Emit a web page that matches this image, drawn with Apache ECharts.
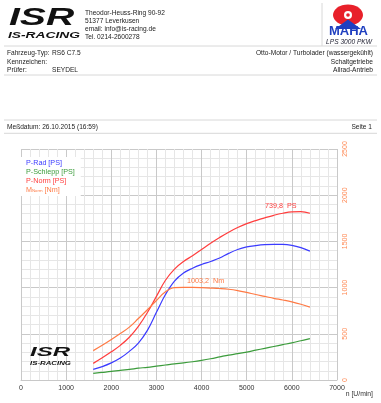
<!DOCTYPE html>
<html>
<head>
<meta charset="utf-8">
<script src="https://cdn.jsdelivr.net/npm/echarts@6/dist/echarts.min.js"></script>
<style>
html,body{margin:0;padding:0;background:#fff;}
#chart{width:381px;height:403px;}
</style>
</head>
<body>
<div id="chart"></div>
<script>
// ---- data ----
const rpm = [1600,1800,2000,2200,2400,2600,2800,3000,3200,3400,3600,3800,4000,4200,4400,4600,4800,5000,5200,5400,5600,5800,6000,6200,6400];
const pRad = [46,58,74,95,124,160,215,293,370,428,463,484,500,513,528,548,565,576,582,586,587,587,583,573,558];
const pSchlepp = [29,33,37,42,46,51,55,60,65,70,74,79,85,92,100,108,114,121,129,137,145,153,161,170,179];
const pNorm = [72,96,122,150,185,232,292,362,432,480,513,538,565,592,617,640,660,677,690,702,713,722,728,729,722];
const mNorm = [318,375,437,502,572,665,760,860,955,1000,1003.2,1002,999,995,990,982,968,948,925,905,884,866,846,820,788];
const xTicks = [0,1000,2000,3000,4000,5000,6000,7000];
const nmTicks = [0,500,1000,1500,2000,2500];
const seriesNames = ['P-Rad [PS]','P-Schlepp [PS]','P-Norm [PS]','M_Norm [Nm]'];
const peakPSLabel = '739,8  PS';
const peakNmLabel = '1003,2  Nm';

const pairs = v => rpm.map((r,i)=>[r,v[i]]);
const F = "'Liberation Sans', Arial, sans-serif";
const C = {blue:'#3b3bff', green:'#3c9c3c', red:'#ff3d3d', orange:'#ff7a45', axis:'#ff8a55', text:'#222'};

const chart = echarts.init(document.getElementById('chart'), null, {renderer:'canvas'});

function txt(x,y,s,opt){
  opt = opt||{};
  return {type:'text', x:x, y:y, scaleX:opt.sx||1, z:10,
    style:{text:s, x:0, y:0, font:(opt.font||('6.6px '+F)), fill:opt.fill||C.text,
      textAlign:opt.align||'left', textVerticalAlign:'middle'}};
}
function hline(y,x1,x2){
  return {type:'line', z:5, shape:{x1:x1||4,y1:y,x2:x2||377,y2:y}, style:{stroke:'#d8d8d8', lineWidth:1}};
}

const graphics = [
  // top-left logo
  txt(9,19,'ISR',{font:'italic bold 23px '+F, fill:'#111', sx:1.7}),
  txt(8,35,'IS-RACING',{font:'italic bold 9.5px '+F, fill:'#111', sx:1.45}),
  // address
  txt(85,13.3,'Theodor-Heuss-Ring 90-92'),
  txt(85,20.8,'51377 Leverkusen'),
  txt(85,28.7,'email: info@is-racing.de'),
  txt(85,36.7,'Tel. 0214-2600278'),
  // separator
  {type:'line', z:5, shape:{x1:322,y1:3,x2:322,y2:46}, style:{stroke:'#d8d8d8', lineWidth:1}},
  // MAHA logo
  {type:'ellipse', z:6, shape:{cx:348,cy:15,rx:15,ry:10.5}, style:{fill:'#e8202a'}},
  {type:'circle', z:7, shape:{cx:348,cy:15,r:4}, style:{fill:'#fff'}},
  {type:'circle', z:8, shape:{cx:348,cy:15,r:1.8}, style:{fill:'#e8202a'}},
  {type:'polygon', z:8, shape:{points:[[335,29],[348,19.5],[361,29]]}, style:{fill:'#1f3fc0'}},
  txt(348.5,31.5,'MAHA',{font:'bold 13px '+F, fill:'#1f3fc0', align:'center'}),
  txt(349,42,'LPS 3000 PKW',{font:'italic 6.6px '+F, fill:'#223', align:'center'}),
  hline(46),
  // vehicle info
  txt(7,53.3,'Fahrzeug-Typ:'),
  txt(52,53.3,'RS6 C7.5'),
  txt(7,61.7,'Kennzeichen:'),
  txt(7,70,'Prüfer:'),
  txt(52,70,'SEYDEL'),
  txt(373,53.3,'Otto-Motor / Turbolader (wassergekühlt)',{align:'right'}),
  txt(373,61.7,'Schaltgetriebe',{align:'right'}),
  txt(373,70,'Allrad-Antrieb',{align:'right'}),
  hline(75),
  hline(120),
  txt(7,127.3,'Meßdatum: 26.10.2015 (16:59)'),
  txt(372,127.3,'Seite 1',{align:'right'}),
  hline(133.3),
  // axis title
  txt(373,394,'n [U/min]',{font:'6.8px '+F, fill:'#333', align:'right'}),
  // bottom logo in plot
  txt(30,352.5,'ISR',{font:'italic bold 13px '+F, fill:'#111', sx:1.85}),
  txt(30,363.3,'IS-RACING',{font:'italic bold 5.6px '+F, fill:'#111', sx:1.4})
];

const option = {
  backgroundColor:'#fff',
  animation:false,
  textStyle:{fontFamily:F},
  grid:{left:21, right:44, top:149, bottom:23, containLabel:false},
  legend:{
    orient:'vertical', left:21, top:157, icon:'none', itemWidth:0, itemHeight:7, itemGap:1.7,
    padding:[3,6,3,0], backgroundColor:'#fff', z:20, selectedMode:false,
    data:[
      {name:seriesNames[0], textStyle:{color:C.blue}},
      {name:seriesNames[1], textStyle:{color:C.green}},
      {name:seriesNames[2], textStyle:{color:C.red}},
      {name:seriesNames[3], textStyle:{color:C.orange}}
    ],
    formatter: n => n === seriesNames[3] ? '{a|M}{b|Norm}{a| [Nm]}' : n,
    textStyle:{fontSize:7.2, fontFamily:F,
      rich:{a:{fontSize:7.2, color:C.orange, fontFamily:F}, b:{fontSize:4.3, color:C.orange, fontFamily:F, padding:[3,0,0,0]}}}
  },
  xAxis:{
    type:'value', min:xTicks[0], max:xTicks[xTicks.length-1], interval:1000,
    axisLine:{show:true, lineStyle:{color:'#c8c8c8'}},
    axisTick:{show:false},
    axisLabel:{color:'#333', fontSize:7, margin:5, fontFamily:F, formatter: v => String(v)},
    splitLine:{show:true, lineStyle:{color:'#c9c9c9', width:1}},
    minorTick:{show:false, splitNumber:5},
    minorSplitLine:{show:true, lineStyle:{color:'#e6e6e6', width:1}}
  },
  yAxis:[
    {
      type:'value', position:'right', min:nmTicks[0], max:nmTicks[nmTicks.length-1], interval:500,
      axisLine:{show:false}, axisTick:{show:false},
      axisLabel:{color:C.axis, fontSize:7, rotate:90, margin:5, fontFamily:F, formatter: v => String(v)},
      splitLine:{show:true, lineStyle:{color:'#c9c9c9', width:1}},
      minorTick:{show:false, splitNumber:5},
      minorSplitLine:{show:true, lineStyle:{color:'#e6e6e6', width:1}}
    },
    {
      type:'value', position:'left', min:0, max:1000, show:false,
      splitLine:{show:false}
    }
  ],
  series:[
    {name:seriesNames[0], type:'line', yAxisIndex:1, data:pairs(pRad), smooth:0.4, showSymbol:false,
      lineStyle:{color:C.blue, width:1.2}, itemStyle:{color:C.blue}, z:3},
    {name:seriesNames[1], type:'line', yAxisIndex:1, data:pairs(pSchlepp), smooth:0.4, showSymbol:false,
      lineStyle:{color:C.green, width:1.2}, itemStyle:{color:C.green}, z:3},
    {name:seriesNames[2], type:'line', yAxisIndex:1, data:pairs(pNorm), smooth:0.4, showSymbol:false,
      lineStyle:{color:C.red, width:1.2}, itemStyle:{color:C.red}, z:3,
      markPoint:{symbol:'circle', symbolSize:0, silent:true,
        data:[{coord:[5405,754.5], label:{show:true, position:'right', distance:0, formatter:peakPSLabel, color:C.red, fontSize:7.2, fontFamily:F}}]}},
    {name:seriesNames[3], type:'line', yAxisIndex:0, data:pairs(mNorm), smooth:0.4, showSymbol:false,
      lineStyle:{color:C.orange, width:1.2}, itemStyle:{color:C.orange}, z:3,
      markPoint:{symbol:'circle', symbolSize:0, silent:true,
        data:[{coord:[3677,1066], label:{show:true, position:'right', distance:0, formatter:peakNmLabel, color:C.orange, fontSize:7.2, fontFamily:F}}]}}
  ],
  graphic: graphics
};
chart.setOption(option);
</script>
</body>
</html>
